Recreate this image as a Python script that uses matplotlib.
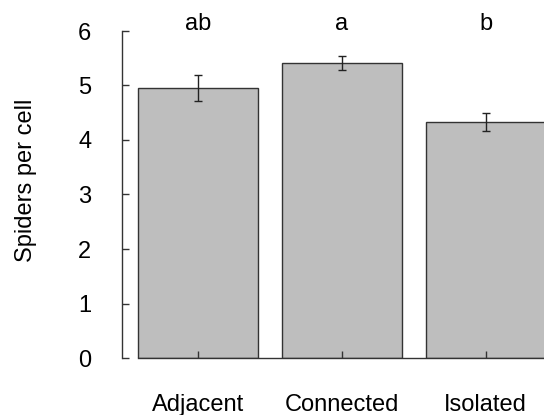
import matplotlib
matplotlib.use("Agg")
import matplotlib.pyplot as plt

categories = ["Adjacent", "Connected", "Isolated"]
means = [4.95, 5.41, 4.33]
errors = [0.24, 0.13, 0.16]
letters = ["ab", "a", "b"]
yticks = [0, 1, 2, 3, 4, 5, 6]

plt.rcParams['font.family'] = ['Liberation Sans', 'DejaVu Sans']

W, H = 544, 415
fig = plt.figure(figsize=(W / 100, H / 100), dpi=100)
ax = fig.add_axes([122 / W, 57 / H, 422 / W, 327 / H])

centers = [0.7 + 1.2 * i for i in range(len(categories))]
ax.bar(centers, means, width=1.0, color="#bebebe", edgecolor="#333333",
       linewidth=1.0, zorder=2)
ax.errorbar(centers, means, yerr=errors, fmt="none", ecolor="#222222",
            elinewidth=1.0, capsize=2.6, capthick=1.0, zorder=3)

for c, m, l in zip(centers, means, letters):
    ax.text(c, 6.02, l, ha="center", va="baseline", fontsize=17,
            clip_on=False)

ax.set_xlim(0.069, 3.586)
ax.set_ylim(0, 6)
ax.set_axisbelow(False)

for s in ["top", "right"]:
    ax.spines[s].set_visible(False)
ax.spines["left"].set_bounds(0, 6)
ax.spines["bottom"].set_bounds(0.2, 3.6)
for s in ["left", "bottom"]:
    ax.spines[s].set_color("#333333")
    ax.spines[s].set_linewidth(1.0)

ax.set_yticks(yticks)
ax.set_yticklabels([str(t) for t in yticks])
ax.set_xticks(centers)
ax.set_xticklabels(categories)
ax.tick_params(axis="y", direction="in", length=5, width=1.0, color="#333333",
               pad=22, labelsize=17)
ax.tick_params(axis="x", direction="in", length=5, width=1.0, color="#333333",
               pad=26, labelsize=17)

ax.set_ylabel("Spiders per cell", fontsize=17, va="center")
ax.yaxis.set_label_coords(-0.228, 0.544)

fig.savefig("out.png", dpi=100)
